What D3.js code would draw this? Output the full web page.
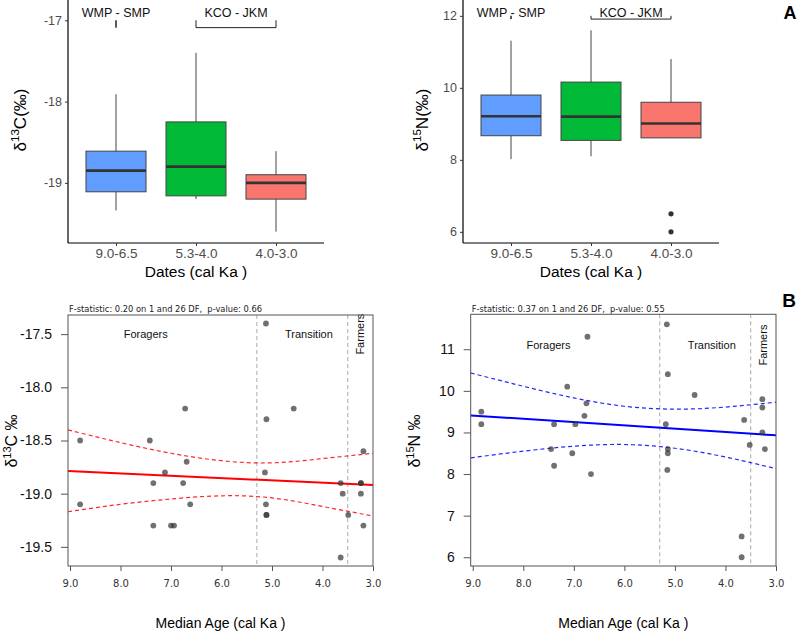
<!DOCTYPE html>
<html lang="en">

<head>
	<meta charset="utf-8">
	<title>isotopes_by_period</title>
	<style>
		body { margin: 0; background: #fff; }
		svg { display: block; }
	</style>
</head>

<body>
	<script src="https://cdn.jsdelivr.net/npm/d3@7/dist/d3.min.js"></script>
	<script>

		// ---- A : box plots by date group
		const groups = ["9.0-6.5", "5.3-4.0", "4.0-3.0"];
		const groupColors = ["#619CFF", "#00BA38", "#F8766D"];

		const carbonLow = [-19.34, -19.20, -19.60];
		const carbonQ1 = [-19.11, -19.16, -19.20];
		const carbonMed = [-18.85, -18.80, -19.00];
		const carbonQ3 = [-18.61, -18.25, -18.90];
		const carbonHigh = [-17.91, -17.40, -18.61];
		const carbonBoxTicks = [-19, -18, -17];

		const nitrogenLow = [8.02, 8.10, 8.61];
		const nitrogenQ1 = [8.67, 8.54, 8.61];
		const nitrogenMed = [9.21, 9.20, 9.01];
		const nitrogenQ3 = [9.80, 10.16, 9.60];
		const nitrogenHigh = [11.31, 11.60, 10.80];
		const nitrogenOutGroup = ["4.0-3.0", "4.0-3.0"];
		const nitrogenOutValue = [6.5, 6.0];
		const nitrogenBoxTicks = [6, 8, 10, 12];

		const bracketLabels = ["WMP - SMP", "KCO - JKM"];
		const bracketFrom = ["9.0-6.5", "5.3-4.0"];
		const bracketTo = ["9.0-6.5", "4.0-3.0"];

		// ---- B : values against median age
		const ageTicks = [9, 8, 7, 6, 5, 4, 3];
		const periodBreaks = [5.3, 3.5];
		const periodNames = ["Foragers", "Transition", "Farmers"];
		const periodLabelAge = [7.5, 4.27, 3.25];

		const carbonAge = [5.12, 6.72, 5.11, 4.57, 8.80, 7.42, 3.19, 6.69, 7.12, 5.14, 7.35, 6.76, 3.64, 3.24,
			3.24, 8.80, 6.62, 5.12, 3.60, 3.24, 5.11, 5.11, 3.49, 7.35, 7.00, 6.94, 3.19, 3.64];
		const carbonValue = [-17.4, -18.2, -18.3, -18.2, -18.5, -18.5, -18.6, -18.7, -18.8, -18.8, -18.9, -18.9, -18.9, -18.9,
			-18.9, -19.1, -19.1, -19.1, -19.0, -19.0, -19.2, -19.2, -19.2, -19.3, -19.3, -19.3, -19.3, -19.6];
		const carbonTicks = [-19.5, -19.0, -18.5, -18.0, -17.5];

		const nitrogenAge = [5.16, 6.73, 5.14, 7.13, 4.61, 3.27, 8.83, 6.75, 3.27, 6.79, 3.63, 8.83, 7.39, 6.97,
			5.18, 3.27, 3.52, 3.22, 7.45, 7.03, 5.14, 5.14, 7.39, 6.66, 5.15, 3.68, 3.68];
		const nitrogenValue = [11.6, 11.3, 10.4, 10.1, 9.9, 9.8, 9.5, 9.7, 9.6, 9.4, 9.3, 9.2, 9.2, 9.2,
			9.2, 9.0, 8.7, 8.6, 8.6, 8.5, 8.6, 8.5, 8.2, 8.0, 8.1, 6.5, 6.0];
		const nitrogenTicks = [6, 7, 8, 9, 10, 11];

		const fitAge = [9.04, 3.0];
		const carbonFit = [-18.786, -18.919];
		const nitrogenFit = [9.41, 8.93];

		const bandAge = [9.04, 8, 7, 6, 5, 4, 3];
		const carbonBandHigh = [-18.40, -18.52, -18.62, -18.69, -18.71, -18.67, -18.62];
		const carbonBandLow = [-19.17, -19.10, -19.05, -19.02, -19.04, -19.12, -19.21];
		const nitrogenBandHigh = [10.43, 10.11, 9.83, 9.63, 9.56, 9.61, 9.73];
		const nitrogenBandLow = [8.39, 8.55, 8.67, 8.71, 8.62, 8.41, 8.13];

		const sans = "'Liberation Sans', Arial, sans-serif";
		const verd = "'DejaVu Sans', Verdana, sans-serif";

		// plain hyphen minus, as in the figure
		const plain = (d) => String(d);
		const oneDec = (d) => d.toFixed(1);

		const svg = d3.select("body")
			.append("svg")
			.attr("width", 800)
			.attr("height", 632)
			.style("background", "#fff");

		function isoLabel(g, x, y, size, iso, el, tail) {
			const t = g.append("text")
				.attr("transform", `translate(${x},${y}) rotate(-90)`)
				.attr("text-anchor", "middle")
				.attr("font-family", sans)
				.attr("font-size", size)
				.attr("fill", "#000");
			t.append("tspan").text("δ");
			t.append("tspan").attr("dy", -size * 0.4).attr("font-size", size * 0.68).text(iso);
			t.append("tspan").attr("dy", size * 0.4).text(el + tail);
		}

		function boxPanel(o) {
			const g = svg.append("g");
			const x = d3.scalePoint().domain(groups).range([o.left, o.left + 256]).padding(0.6);
			const y = d3.scaleLinear().domain(o.domain).range([243, 0]);
			const bw = x.step() * 0.75;

			// whiskers
			g.append("g")
				.selectAll()
				.data(groups)
				.join("line")
				.attr("x1", (d) => x(d))
				.attr("x2", (d) => x(d))
				.attr("y1", (d, i) => y(o.low[i]))
				.attr("y2", (d, i) => y(o.high[i]))
				.attr("stroke", "#444")
				.attr("stroke-width", 1);

			g.append("g")
				.selectAll()
				.data(groups)
				.join("rect")
				.attr("x", (d) => x(d) - bw / 2)
				.attr("width", bw)
				.attr("y", (d, i) => y(o.q3[i]))
				.attr("height", (d, i) => y(o.q1[i]) - y(o.q3[i]))
				.attr("fill", (d, i) => groupColors[i])
				.attr("stroke", "#444")
				.attr("stroke-width", 1);

			g.append("g")
				.selectAll()
				.data(groups)
				.join("line")
				.attr("x1", (d) => x(d) - bw / 2)
				.attr("x2", (d) => x(d) + bw / 2)
				.attr("y1", (d, i) => y(o.med[i]))
				.attr("y2", (d, i) => y(o.med[i]))
				.attr("stroke", "#333")
				.attr("stroke-width", 2.6);

			if (o.outGroup) {
				g.append("g")
					.selectAll()
					.data(o.outValue)
					.join("circle")
					.attr("cx", (d, i) => x(o.outGroup[i]))
					.attr("cy", (d) => y(d))
					.attr("r", 2.6)
					.attr("fill", "#333");
			}

			// brackets
			bracketLabels.forEach((lab, i) => {
				const x1 = x(bracketFrom[i]);
				const x2 = x(bracketTo[i]);
				g.append("path")
					.attr("d", `M${x1},${y(o.tip)} V${y(o.line)} H${x2} V${y(o.tip)}`)
					.attr("fill", "none")
					.attr("stroke", "#222")
					.attr("stroke-width", 1);
				g.append("text")
					.attr("x", (x1 + x2) / 2)
					.attr("y", y(o.textAt))
					.attr("text-anchor", "middle")
					.attr("font-family", sans)
					.attr("font-size", 12.5)
					.attr("fill", "#111")
					.text(lab);
			});

			const ya = g.append("g")
				.attr("transform", `translate(${o.left},0)`)
				.call(d3.axisLeft(y).tickValues(o.ticks).tickFormat(plain).tickSize(3).tickPadding(3).tickSizeOuter(0));
			ya.select(".domain").attr("d", `M0,0 V243`).attr("stroke", "#000").attr("stroke-width", 1.2);

			const xa = g.append("g")
				.attr("transform", "translate(0,243)")
				.call(d3.axisBottom(x).tickSize(3).tickPadding(2).tickSizeOuter(0));
			xa.select(".domain").attr("d", `M${o.left},0 H${o.left + 256}`).attr("stroke", "#000").attr("stroke-width", 1.2);

			for (const a of [ya, xa]) {
				a.selectAll(".tick line").attr("stroke", "#333");
				a.selectAll(".tick text")
					.attr("font-family", sans)
					.attr("fill", "#4d4d4d");
			}
			ya.selectAll(".tick text").attr("font-size", 12.5);
			xa.selectAll(".tick text").attr("font-size", 13.5);

			g.append("text")
				.attr("x", o.left + 128)
				.attr("y", 277)
				.attr("text-anchor", "middle")
				.attr("font-family", sans)
				.attr("font-size", 15.5)
				.text("Dates (cal Ka )");

			isoLabel(g, o.left + o.titleDx, 120, 17, o.iso, o.el, "(‰)");
		}

		function agePanel(o) {
			const g = svg.append("g");
			const x = d3.scaleLinear().domain([9.04, 3.0]).range([o.left, o.right]);
			const y = d3.scaleLinear().domain(o.domain).range([566, o.top]);

			g.append("text")
				.attr("x", o.left + 1)
				.attr("y", 312)
				.attr("font-family", verd)
				.attr("font-size", 8.3)
				.attr("fill", "#222")
				.attr("xml:space", "preserve")
				.text(o.stat);

			g.append("g")
				.selectAll()
				.data(periodBreaks)
				.join("line")
				.attr("x1", (d) => x(d))
				.attr("x2", (d) => x(d))
				.attr("y1", o.top)
				.attr("y2", 566)
				.attr("stroke", "#aaa")
				.attr("stroke-dasharray", "4,3")
				.attr("stroke-width", 1);

			periodNames.forEach((name, i) => {
				const t = g.append("text")
					.attr("text-anchor", "middle")
					.attr("dominant-baseline", "central")
					.attr("font-family", sans)
					.attr("font-size", 11)
					.attr("fill", "#111")
					.text(name);
				if (i === 2) {
					t.attr("transform", `translate(${x(periodLabelAge[i])},${y(o.labelAt)}) rotate(-90)`);
				} else {
					t.attr("x", x(periodLabelAge[i])).attr("y", y(o.labelAt));
				}
			});

			const band = d3.line()
				.x((d, i) => x(bandAge[i]))
				.y((d) => y(d))
				.curve(d3.curveNatural);

			for (const arr of [o.bandHigh, o.bandLow]) {
				g.append("path")
					.attr("d", band(arr))
					.attr("fill", "none")
					.attr("stroke", o.color)
					.attr("stroke-opacity", 0.85)
					.attr("stroke-width", 1.2)
					.attr("stroke-dasharray", "4,3");
			}

			g.append("path")
				.attr("d", d3.line().x((d, i) => x(fitAge[i])).y((d) => y(d))(o.fit))
				.attr("fill", "none")
				.attr("stroke", o.color)
				.attr("stroke-width", 2);

			g.append("g")
				.selectAll()
				.data(o.values)
				.join("circle")
				.attr("cx", (d, i) => x(o.ages[i]))
				.attr("cy", (d) => y(d))
				.attr("r", 2.9)
				.attr("fill", "#333")
				.attr("fill-opacity", 0.7);

			g.append("rect")
				.attr("x", o.left)
				.attr("y", o.top)
				.attr("width", o.right - o.left)
				.attr("height", 566 - o.top)
				.attr("fill", "none")
				.attr("stroke", "#555")
				.attr("stroke-width", 1);

			const ya = g.append("g")
				.attr("transform", `translate(${o.left},0)`)
				.call(d3.axisLeft(y).tickValues(o.ticks).tickFormat(o.fmt).tickSize(7).tickPadding(9).tickSizeOuter(0));
			ya.select(".domain").remove();
			ya.selectAll(".tick line").attr("stroke", "#555");
			ya.selectAll(".tick text")
				.attr("font-family", sans)
				.attr("font-size", 14)
				.attr("fill", "#111");

			const xa = g.append("g")
				.attr("transform", "translate(0,566)")
				.call(d3.axisBottom(x).tickValues(ageTicks).tickFormat(oneDec).tickSize(5).tickPadding(9).tickSizeOuter(0));
			xa.select(".domain").remove();
			xa.selectAll(".tick line").attr("stroke", "#555");
			xa.selectAll(".tick text")
				.attr("font-family", verd)
				.attr("font-size", 10)
				.attr("fill", "#333");

			g.append("text")
				.attr("x", (o.left + o.right) / 2)
				.attr("y", 628)
				.attr("text-anchor", "middle")
				.attr("font-family", sans)
				.attr("font-size", 14)
				.text("Median Age (cal Ka )");

			const t = g.append("text")
				.attr("transform", `translate(${o.left - 51},441) rotate(-90)`)
				.attr("text-anchor", "middle")
				.attr("font-family", sans)
				.attr("font-size", 16);
			t.append("tspan").text("δ");
			t.append("tspan").attr("dy", -6).attr("font-size", 11).text(o.iso);
			t.append("tspan").attr("dy", 6).text(o.el + " ‰");
		}

		boxPanel({
			left: 68, domain: [-19.74, -16.75], ticks: carbonBoxTicks,
			low: carbonLow, q1: carbonQ1, med: carbonMed, q3: carbonQ3, high: carbonHigh,
			tip: -17.0, line: -17.09, textAt: -16.96, iso: "13", el: "C", titleDx: -42
		});
		boxPanel({
			left: 463, domain: [5.69, 12.44], ticks: nitrogenBoxTicks,
			low: nitrogenLow, q1: nitrogenQ1, med: nitrogenMed, q3: nitrogenQ3, high: nitrogenHigh,
			outGroup: nitrogenOutGroup, outValue: nitrogenOutValue,
			tip: 12.0, line: 11.91, textAt: 11.97, iso: "15", el: "N", titleDx: -35
		});

		agePanel({
			left: 68, right: 373, top: 315, domain: [-19.68, -17.32], ticks: carbonTicks, fmt: oneDec,
			ages: carbonAge, values: carbonValue, fit: carbonFit, bandHigh: carbonBandHigh, bandLow: carbonBandLow,
			color: "#ff0000", labelAt: -17.5, iso: "13", el: "C",
			stat: "F-statistic: 0.20 on 1 and 26 DF,  p-value: 0.66"
		});
		agePanel({
			left: 470.7, right: 776, top: 314.3, domain: [5.79, 11.84], ticks: nitrogenTicks, fmt: plain,
			ages: nitrogenAge, values: nitrogenValue, fit: nitrogenFit, bandHigh: nitrogenBandHigh, bandLow: nitrogenBandLow,
			color: "#0000ff", labelAt: 11.1, iso: "15", el: "N",
			stat: "F-statistic: 0.37 on 1 and 26 DF,  p-value: 0.55"
		});

		// panel letters
		svg.append("text").attr("x", 790).attr("y", 19).attr("text-anchor", "middle")
			.attr("font-family", sans).attr("font-weight", "bold").attr("font-size", 18).text("A");
		svg.append("text").attr("x", 789).attr("y", 307).attr("text-anchor", "middle")
			.attr("font-family", sans).attr("font-weight", "bold").attr("font-size", 19).text("B");
	</script>
</body>

</html>
